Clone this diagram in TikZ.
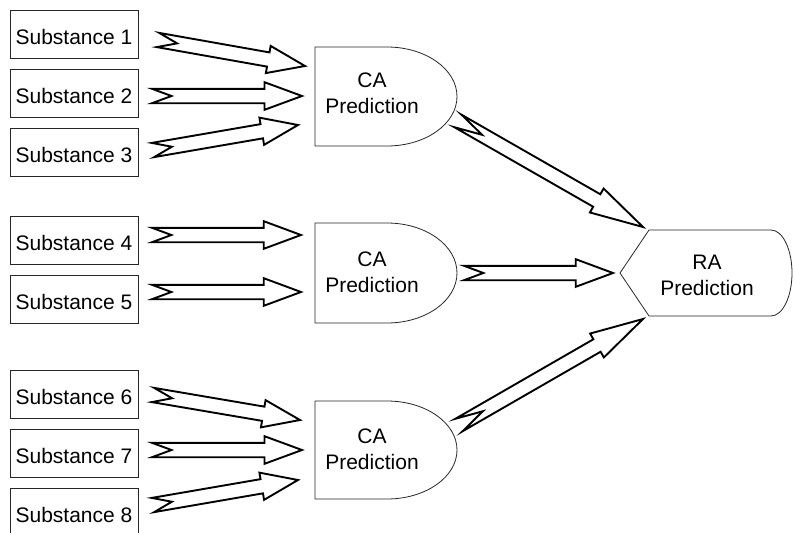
\documentclass[tikz,border=0pt]{standalone}
\usepackage{fontspec}
\setmainfont{Liberation Sans}
\usetikzlibrary{calc}

% half widths of the hollow block arrows
\newcommand\arrshaft{7.2pt}
\newcommand\arrhead{13.8pt}
% hollow block arrow with a notched tail, from coordinate #1 (tail) to #2 (tip)
\newcommand\blockarrow[2]{%
  \draw[bigarrow] let \p1=(#1), \p2=(#2),
      \n1={atan2(\y2-\y1,\x2-\x1)} in
    ($(\p1)+(\n1+90:\arrshaft)$)
    -- ($(\p1)!0.75!(\p2)+(\n1+90:\arrshaft)$)
    -- ($(\p1)!0.75!(\p2)+(\n1+90:\arrhead)$)
    -- (\p2)
    -- ($(\p1)!0.75!(\p2)+(\n1-90:\arrhead)$)
    -- ($(\p1)!0.75!(\p2)+(\n1-90:\arrshaft)$)
    -- ($(\p1)+(\n1-90:\arrshaft)$)
    -- ($(\p1)!0.13!(\p2)$)
    -- cycle;}

\begin{document}
\begin{tikzpicture}[x=1pt,y=-1pt,
  txt/.style={font=\fontsize{21pt}{26pt}\selectfont},
  substance/.style={txt, draw=black!85, line width=0.8pt, minimum width=128pt,
    minimum height=48pt, inner sep=0pt, text height=21pt, text depth=0pt},
  caption/.style={txt, align=center, inner sep=0pt},
  outline/.style={draw=black!85, line width=0.8pt, line join=round},
  bigarrow/.style={draw=black, fill=white, line width=1.9pt, line join=miter}]
\useasboundingbox (0,0) rectangle (793,533);

% input substances
\node[substance] (s1) at (74,34)  {Substance 1};
\node[substance] (s2) at (74,93)  {Substance 2};
\node[substance] (s3) at (74,152) {Substance 3};
\node[substance] (s4) at (74,240) {Substance 4};
\node[substance] (s5) at (74,299) {Substance 5};
\node[substance] (s6) at (74,394) {Substance 6};
\node[substance] (s7) at (74,453) {Substance 7};
\node[substance] (s8) at (74,512) {Substance 8};

% concentration addition blocks (D shapes)
\draw[outline] (315,47) -- (387,47) arc[start angle=90, end angle=-90, x radius=70pt, y radius=49.5pt] -- (315,146) -- cycle;
\draw[outline] (315,223) -- (387,223) arc[start angle=90, end angle=-90, x radius=70pt, y radius=50pt] -- (315,323) -- cycle;
\draw[outline] (315,401) -- (387,401) arc[start angle=90, end angle=-90, x radius=70pt, y radius=49pt] -- (315,499) -- cycle;
\node[caption] (ca1) at (372,93.5) {CA\\Prediction};
\node[caption] (ca2) at (372,272.5) {CA\\Prediction};
\node[caption] (ca3) at (372,449) {CA\\Prediction};

% response addition block (display shape)
\draw[outline] (620,273) -- (649,230) -- (771,230) arc[start angle=90, end angle=-90, x radius=21pt, y radius=43pt] -- (649,316) -- cycle;
\node[caption] (ra) at (707,275) {RA\\Prediction};

% arrow end points
\coordinate (t1) at (158,40);  \coordinate (h1) at (305,66);
\coordinate (t2) at (152,96);  \coordinate (h2) at (302,96);
\coordinate (t3) at (153,150); \coordinate (h3) at (298,125);
\coordinate (t4) at (152,235); \coordinate (h4) at (301,235);
\coordinate (t5) at (152,292); \coordinate (h5) at (301,292);
\coordinate (t6) at (153,395); \coordinate (h6) at (300,420);
\coordinate (t7) at (152,450); \coordinate (h7) at (302,450);
\coordinate (t8) at (153,505); \coordinate (h8) at (298,480);
\coordinate (u1) at (458,121); \coordinate (r1) at (643,227);
\coordinate (u2) at (464,273); \coordinate (r2) at (613,273);
\coordinate (u3) at (459,425); \coordinate (r3) at (643,319);

\blockarrow{t1}{h1}
\blockarrow{t2}{h2}
\blockarrow{t3}{h3}
\blockarrow{t4}{h4}
\blockarrow{t5}{h5}
\blockarrow{t6}{h6}
\blockarrow{t7}{h7}
\blockarrow{t8}{h8}
\blockarrow{u1}{r1}
\blockarrow{u2}{r2}
\blockarrow{u3}{r3}
\end{tikzpicture}
\end{document}
